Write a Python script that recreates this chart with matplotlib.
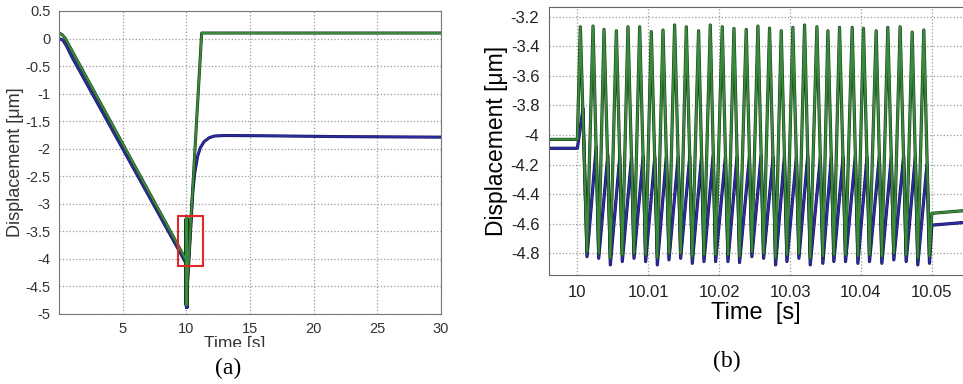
import numpy as np
import matplotlib
matplotlib.use("Agg")
import matplotlib.pyplot as plt
import matplotlib.patheffects as pe
from matplotlib.patches import Rectangle
from matplotlib.ticker import FuncFormatter

plt.rcParams['font.family'] = ['Liberation Sans', 'DejaVu Sans']

# --- data: burst around t = 10 s (times in ms after 10 s) ---
green_pk_ms = [0.42, 2.21, 3.76, 5.50, 7.14, 8.79, 10.43, 12.08, 13.72, 15.37,
               17.10, 18.75, 20.44, 22.09, 23.82, 25.47, 27.11, 28.76, 30.40, 32.05,
               33.79, 35.34, 36.98, 38.77, 40.36, 42.15, 43.79, 45.53, 47.23, 48.87]
green_pk = [-3.268, -3.263, -3.286, -3.295, -3.268, -3.268, -3.301, -3.290, -3.256, -3.268,
            -3.295, -3.256, -3.268, -3.279, -3.286, -3.263, -3.277, -3.295, -3.272, -3.256,
            -3.268, -3.295, -3.272, -3.272, -3.279, -3.295, -3.272, -3.268, -3.304, -3.290]
trough_ms = [1.36, 3.01, 4.65, 6.34, 7.99, 9.63, 11.28, 12.92, 14.57, 16.21,
             17.86, 19.50, 21.24, 22.88, 24.62, 26.27, 27.96, 29.56, 31.25, 32.85,
             34.63, 36.18, 37.83, 39.57, 41.21, 42.95, 44.64, 46.38, 48.02, 49.67]
green_tr = [-4.79, -4.80, -4.83, -4.81, -4.80, -4.81, -4.83, -4.80, -4.80, -4.82,
            -4.81, -4.81, -4.81, -4.82, -4.79, -4.80, -4.83, -4.81, -4.80, -4.83,
            -4.82, -4.81, -4.81, -4.82, -4.81, -4.82, -4.80, -4.81, -4.83, -4.82]
blue_tr = [-4.823, -4.834, -4.879, -4.856, -4.834, -4.856, -4.879, -4.845, -4.834, -4.868,
           -4.856, -4.856, -4.856, -4.863, -4.823, -4.834, -4.879, -4.856, -4.834, -4.879,
           -4.868, -4.856, -4.856, -4.868, -4.856, -4.868, -4.845, -4.856, -4.879, -4.868]
blue_pk_ms = [2.66, 4.30, 5.99, 7.64, 9.28, 10.93, 12.57, 14.22, 15.86, 17.51,
              19.15, 20.89, 22.53, 24.27, 25.92, 27.61, 29.21, 30.90, 32.50, 34.28,
              35.83, 37.48, 39.22, 40.86, 42.60, 44.29, 46.03, 47.67, 49.32]
blue_pk = [-4.08, -4.135, -4.145, -4.15, -4.145, -4.15, -4.14, -4.15, -4.145, -4.15,
           -4.14, -4.15, -4.145, -4.15, -4.14, -4.15, -4.145, -4.15, -4.14, -4.15,
           -4.145, -4.15, -4.14, -4.15, -4.145, -4.15, -4.14, -4.15, -4.20]

# --- data: slow parts of the response (seconds) ---
green_pre_t = [0.0, 0.25, 0.5, 0.8, 9.996, 10.0]
green_pre = [0.10, 0.07, 0.00, -0.13, -4.03, -4.03]
green_post_t = [10.05, 11.2, 30.0]
green_post = [-4.53, 0.10, 0.10]

blue_pre_t = [0.0, 0.3, 0.6, 1.0, 9.996, 10.0, 10.0008]
blue_pre = [0.0, -0.03, -0.14, -0.33, -4.09, -4.09, -3.82]
blue_post_t = [10.05, 10.5, 10.65, 10.88, 11.1, 11.4, 11.8, 12.2, 13.0, 16.0, 22.0, 30.0]
blue_post = [-4.61, -2.80, -2.45, -2.14, -1.98, -1.87, -1.80, -1.77, -1.76, -1.765, -1.78, -1.79]

# assemble the two traces
g_t = list(green_pre_t)
g_v = list(green_pre)
for i in range(len(green_pk_ms)):
    g_t += [10 + green_pk_ms[i] / 1000, 10 + trough_ms[i] / 1000]
    g_v += [green_pk[i], green_tr[i]]
g_t += green_post_t
g_v += green_post

b_t = list(blue_pre_t)
b_v = list(blue_pre)
b_t.append(10 + trough_ms[0] / 1000)
b_v.append(blue_tr[0])
for i in range(len(blue_pk_ms)):
    b_t += [10 + blue_pk_ms[i] / 1000, 10 + trough_ms[i + 1] / 1000]
    b_v += [blue_pk[i], blue_tr[i + 1]]
b_t += blue_post_t
b_v += blue_post

GREEN = '#3a8a3c'
BLUE = '#2c2ca0'
GRID = dict(color='#9a9a9a', linestyle=':', linewidth=0.9)


def draw(ax, lw):
    ax.plot(b_t, b_v, color=BLUE, lw=lw,
            path_effects=[pe.Stroke(linewidth=lw + 0.8, foreground='#14145a'), pe.Normal()])
    ax.plot(g_t, g_v, color=GREEN, lw=lw,
            path_effects=[pe.Stroke(linewidth=lw + 0.8, foreground='#163d18'), pe.Normal()])


fig = plt.figure(figsize=(9.63, 3.84), dpi=100)

# ---------- (a) ----------
ax1 = fig.add_axes([0.0613, 0.1823, 0.3967, 0.7891])
draw(ax1, 1.4)
ax1.add_patch(Rectangle((9.37, -4.12), 1.9, 0.89, fill=False, edgecolor='#e02828', lw=1.5, zorder=5))
ax1.set_xlim(0, 30)
ax1.set_ylim(-5, 0.5)
ax1.set_xticks([5, 10, 15, 20, 25, 30])
ax1.set_yticks(np.arange(-5, 0.51, 0.5))
ax1.yaxis.set_major_formatter(FuncFormatter(lambda v, p: '%g' % round(v, 2)))
ax1.grid(True, **GRID)
ax1.tick_params(labelsize=10.5, labelcolor='#333333', length=0, pad=6)
ax1.set_ylabel('Displacement [μm]', fontsize=13, color='#333333', labelpad=1)
for s in ax1.spines.values():
    s.set_color('#777777')
fig.text(0.2435, 1 - 336 / 384, 'Time [s]', ha='center', va='top', fontsize=12.5, color='#333333')
# the crop of the original cuts the axis title
fig.patches.append(Rectangle((0.19, 1 - 357 / 384), 0.12, 10 / 384, transform=fig.transFigure,
                             facecolor='white', edgecolor='none', zorder=10))
fig.text(0.237, 1 - 368 / 384, '(a)', ha='center', va='center', fontsize=17,
         family='Liberation Serif', zorder=11)

# ---------- (b) ----------
ax2 = fig.add_axes([0.5701, 0.2839, 0.4299, 0.6979])
draw(ax2, 1.5)
ax2.set_xlim(9.996, 10.0544)
ax2.set_ylim(-4.947, -3.134)
ax2.set_xticks([10, 10.01, 10.02, 10.03, 10.04, 10.05])
ax2.set_yticks(np.arange(-4.8, -3.19, 0.2))
ax2.xaxis.set_major_formatter(FuncFormatter(lambda v, p: '%g' % round(v, 3)))
ax2.yaxis.set_major_formatter(FuncFormatter(lambda v, p: '%g' % round(v, 2)))
ax2.grid(True, **GRID)
ax2.tick_params(labelsize=12, labelcolor='#222222', length=0, pad=7)
ax2.set_xlabel('Time  [s]', fontsize=17, labelpad=2)
ax2.set_ylabel('Displacement [μm]', fontsize=16.5, labelpad=2)
ax2.spines['right'].set_visible(False)
for s in ax2.spines.values():
    s.set_color('#666666')
fig.text(0.755, 1 - 361 / 384, '(b)', ha='center', va='center', fontsize=17, family='Liberation Serif')

fig.savefig('out.png', dpi=100)
